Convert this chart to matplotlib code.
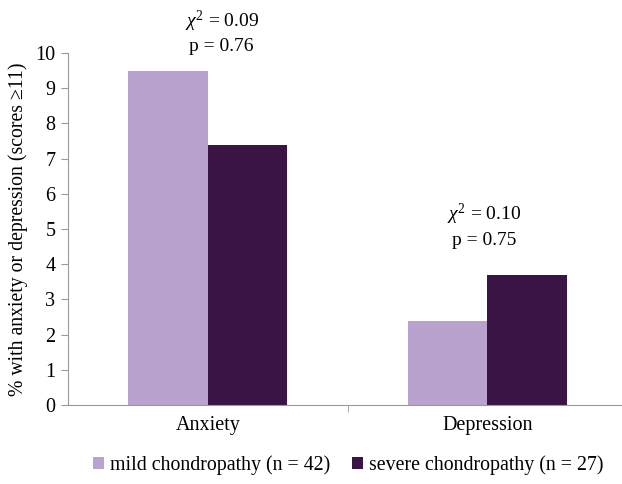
import numpy as np
import matplotlib
matplotlib.use("Agg")
import matplotlib.pyplot as plt

# ── Data ───────────────────────────────────────────────────
categories = ["Anxiety", "Depression"]
mild = [9.5, 2.4]
severe = [7.4, 3.7]
labels = ["mild chondropathy (n = 42)", "severe chondropathy (n = 27)"]
chi_text = ["$\\chi^2$ = 0.09\np = 0.76", "$\\chi^2$ = 0.10\np = 0.75"]

plt.rcParams["font.family"] = ["Liberation Serif", "DejaVu Serif"]
plt.rcParams["mathtext.fontset"] = "custom"
plt.rcParams["mathtext.it"] = "Liberation Serif:italic"
plt.rcParams["mathtext.rm"] = "Liberation Serif"

fig = plt.figure(figsize=(6.22, 4.84), dpi=100)
W, H = 622, 484
ax = fig.add_axes([68 / W, 1 - 405 / H, (627 - 68) / W, (405 - 53) / H])

x = np.arange(len(categories))
bw = 0.284
ax.bar(x - bw / 2, mild, bw, color="#B9A2CE", label=labels[0])
ax.bar(x + bw / 2, severe, bw, color="#3A1445", label=labels[1])

ax.set_xlim(-0.5, 1.5)
ax.set_ylim(0, 10)
ax.set_yticks(range(0, 11))
ax.set_xticks(x)
ax.set_xticklabels(categories, fontsize=14.5)
ax.tick_params(axis="y", labelsize=14.5, direction="out", length=5, color="#999999", pad=4)
ax.tick_params(axis="x", length=0, pad=8)
# category separator ticks
ax.set_xticks([0.5], minor=True)
ax.tick_params(axis="x", which="minor", length=5, direction="out", color="#999999")

for side in ["top", "right"]:
    ax.spines[side].set_visible(False)
for side in ["left", "bottom"]:
    ax.spines[side].set_color("#999999")

ax.set_ylabel("% with anxiety or depression (scores ≥11)", fontsize=14.2, labelpad=5)

# chi-square annotations
ax.text(0.05, 10.6, chi_text[0], ha="center", va="center", fontsize=14,
        linespacing=1.35, clip_on=False)
ax.text(0.99, 5.1, chi_text[1], ha="center", va="center", fontsize=14,
        linespacing=1.35)

fig.legend(loc="center", bbox_to_anchor=(348 / W, 1 - 465 / H), ncol=2,
           frameon=False, fontsize=14.3, handlelength=0.55, handleheight=0.55,
           handletextpad=0.3, columnspacing=1.1)

fig.savefig("out.png", dpi=100)
